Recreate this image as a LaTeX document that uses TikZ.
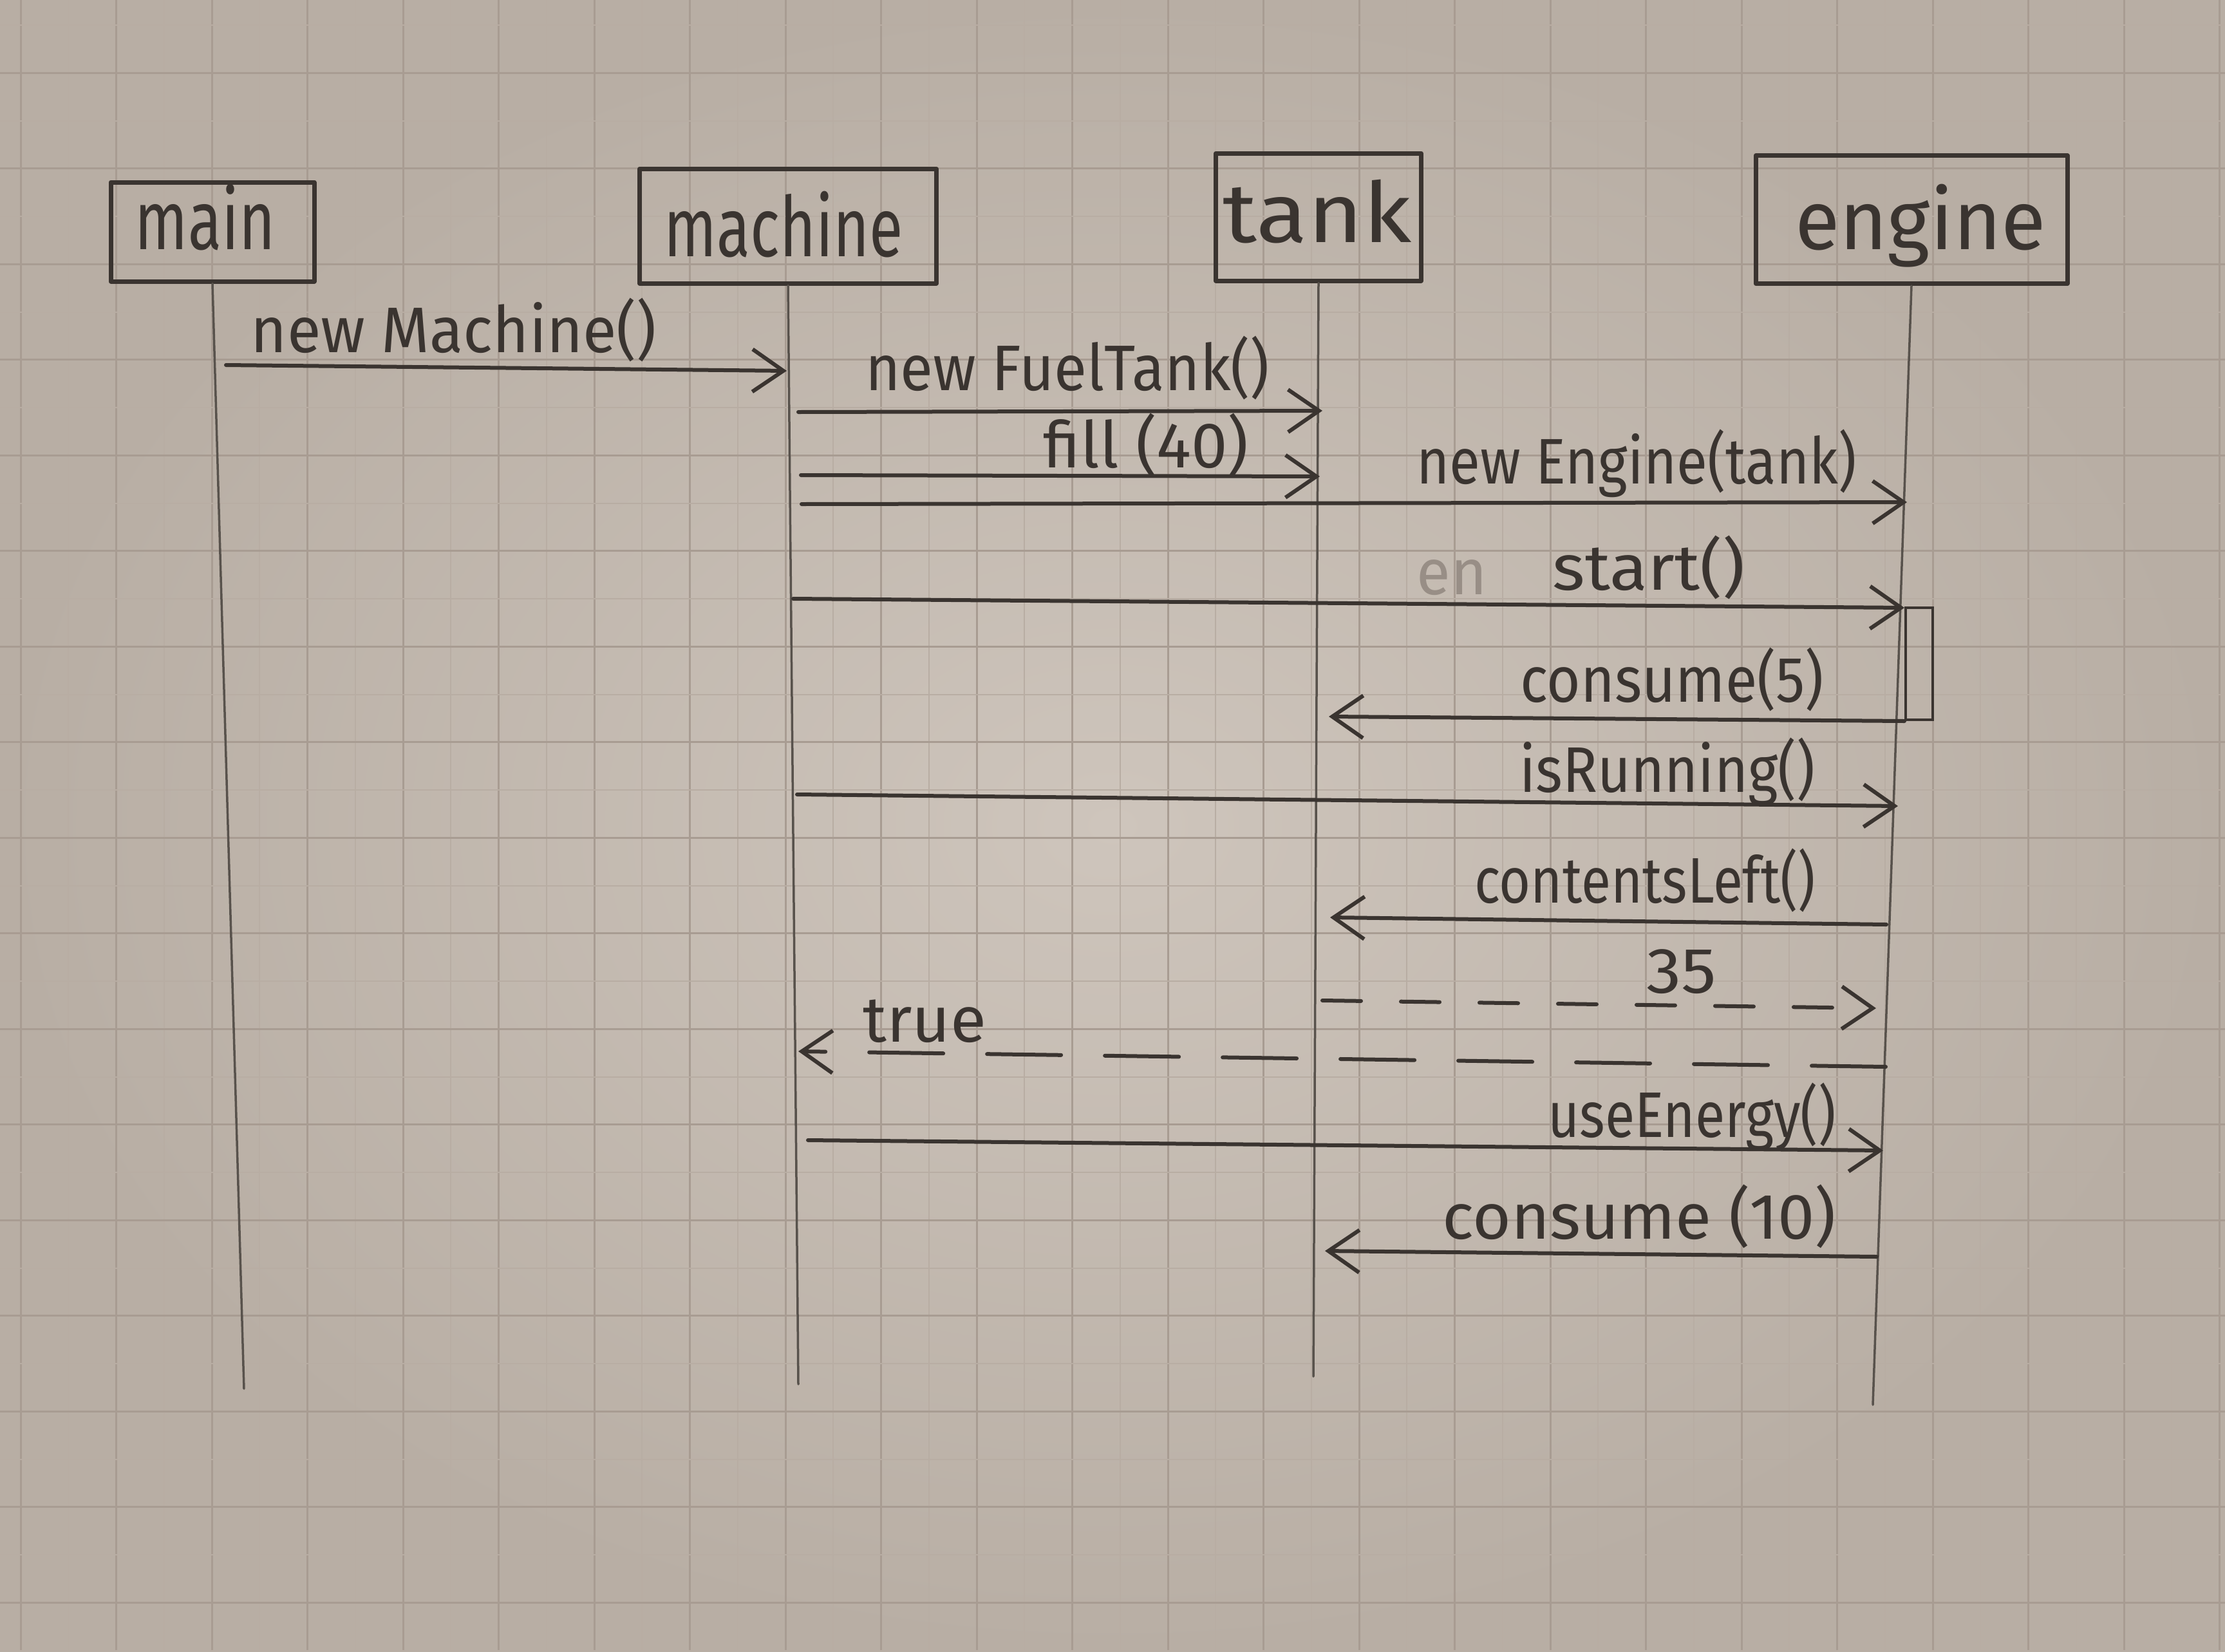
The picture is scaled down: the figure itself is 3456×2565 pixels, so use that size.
\documentclass[tikz,border=0pt]{standalone}
\usepackage{graphicx}
\usepackage{fontspec}
\setmainfont{Fira Sans}
\usetikzlibrary{arrows.meta}

\definecolor{paperlight}{RGB}{206,197,188}
\definecolor{paperdark}{RGB}{184,174,164}
\definecolor{gridmajor}{RGB}{168,156,146}
\definecolor{gridminor}{RGB}{184,173,163}
\definecolor{inkc}{RGB}{58,52,48}
\definecolor{pencil}{RGB}{88,82,76}
\definecolor{erased}{RGB}{152,142,134}

% squeeze a text horizontally to a given width (in pt)
\newlength\fitlen
\newcommand\fitw[2]{\settowidth\fitlen{#2}\scalebox{\fpeval{round((#1)/\fitlen,4)}}[1]{#2}}

\begin{document}
\begin{tikzpicture}[x=1pt,y=-1pt,
  ink/.style={draw=inkc, line width=6pt, line cap=round, line join=round},
  msg/.style={ink, -{Straight Barb[length=48pt,width=66pt]}},
  reply/.style={msg, dash pattern=on 60pt off 62pt},
  lifeline/.style={draw=pencil, line width=3.5pt, line cap=round},
  headbox/.style={draw=inkc, line width=7pt, line join=round, inner sep=0pt},
  pname/.style={text=inkc, anchor=base, yshift=-34pt, inner sep=0pt, font=\fontsize{130}{140}\selectfont},
  lbl/.style={text=inkc, anchor=base, yshift=-26pt, inner sep=0pt, font=\fontsize{100}{110}\selectfont},
]
% paper and grid
\useasboundingbox (0,0) rectangle (3456,2565);
\shade[inner color=paperlight, outer color=paperdark] (0,0) rectangle (3456,2565);
\foreach \i in {0,...,23} {
  \draw[gridminor, line width=2pt] ({32+148.5*\i+74},0) -- ({32+148.5*\i+74},2565);
  \draw[gridmajor, line width=3pt] ({32+148.5*\i},0) -- ({32+148.5*\i},2565);
}
\foreach \j in {0,...,17} {
  \draw[gridminor, line width=2pt] (0,{113+148.5*\j-74}) -- (3456,{113+148.5*\j-74});
  \draw[gridmajor, line width=3pt] (0,{113+148.5*\j}) -- (3456,{113+148.5*\j});
}

% participants
\node[headbox, minimum width=316pt, minimum height=154pt] (main) at (330,360) {};
\node[headbox, minimum width=461pt, minimum height=178pt] (machine) at (1224,351) {};
\node[headbox, minimum width=319pt, minimum height=198pt] (tank) at (2048,337) {};
\node[headbox, minimum width=484pt, minimum height=199pt] (engine) at (2969,341) {};
\node[pname] (mainName) at (319,353) {\fitw{218}{main}};
\node[pname] (machineName) at (1217,364) {\fitw{371}{machine}};
\node[pname] (tankName) at (2046,342) {\fitw{293}{tank}};
\node[pname] (engineName) at (2983,353) {\fitw{390}{engine}};

% lifelines
\coordinate (mainEnd) at (379,2157);
\coordinate (machineEnd) at (1240,2150);
\coordinate (tankEnd) at (2040,2138);
\coordinate (engineEnd) at (2909,2182);
\draw[lifeline] (main.south) -- (mainEnd);
\draw[lifeline] (machine.south) -- (machineEnd);
\draw[lifeline] (tank.south) -- (tankEnd);
\draw[lifeline] (engine.south) -- (engineEnd);

% activation bar on engine
\node[draw=inkc, line width=4pt, inner sep=0pt, minimum width=42pt, minimum height=174pt] (act) at (2981,1031) {};

% message end points
\coordinate (m1a) at (351,567);   \coordinate (m1b) at (1222,576);
\coordinate (m2a) at (1240,640);  \coordinate (m2b) at (2054,638);
\coordinate (m3a) at (1244,738);  \coordinate (m3b) at (2050,740);
\coordinate (m4a) at (1245,783);  \coordinate (m4b) at (2962,780);
\coordinate (m5a) at (1232,930);  \coordinate (m5b) at (2958,944);
\coordinate (m7b) at (2064,1113);
\coordinate (m8a) at (1238,1234); \coordinate (m8b) at (2948,1252);
\coordinate (m9a) at (2930,1436); \coordinate (m9b) at (2066,1425);
\coordinate (m10a) at (2054,1554); \coordinate (m10b) at (2914,1566);
\coordinate (m11a) at (2929,1657); \coordinate (m11b) at (1240,1633);
\coordinate (m12a) at (1255,1771); \coordinate (m12b) at (2925,1787);
\coordinate (m13a) at (2915,1952); \coordinate (m13b) at (2058,1943);

% messages
\draw[msg] (m1a) -- (m1b);
\draw[msg] (m2a) -- (m2b);
\draw[msg] (m3a) -- (m3b);
\draw[msg] (m4a) -- (m4b);
\draw[msg] (m5a) -- (m5b);
\draw[msg] (act.south west) -- (m7b);
\draw[msg] (m8a) -- (m8b);
\draw[msg] (m9a) -- (m9b);
\draw[reply] (m10a) -- (m10b);
\draw[reply, dash pattern=on 115pt off 68pt] (m11a) -- (m11b);
\draw[msg] (m12a) -- (m12b);
\draw[msg] (m13a) -- (m13b);

% message labels
\node[lbl] (l1) at (705,521) {\fitw{630}{new Machine()}};
\node[lbl] (l2) at (1658,580) {\fitw{628}{new FuelTank()}};
\node[lbl] (l3) at (1780,700) {\fitw{319}{fill (40)}};
\node[lbl] (l4) at (2542,725) {\fitw{683}{new Engine(tank)}};
\node[lbl, text=erased] (l5x) at (2255,897) {\fitw{109}{en}};
\node[lbl] (l5) at (2561,890) {\fitw{299}{start()}};
\node[lbl] (l7) at (2597,1064) {\fitw{472}{consume(5)}};
\node[lbl] (l8) at (2590,1204) {\fitw{459}{isRunning()}};
\node[lbl] (l9) at (2555,1376) {\fitw{530}{contentsLeft()}};
\node[lbl] (l10) at (2612,1516) {\fitw{109}{35}};
\node[lbl] (l11) at (1436,1592) {\fitw{192}{true}};
\node[lbl] (l12) at (2628,1740) {\fitw{447}{useEnergy()}};
\node[lbl] (l13) at (2546,1898) {\fitw{612}{consume (10)}};
\end{tikzpicture}
\end{document}
